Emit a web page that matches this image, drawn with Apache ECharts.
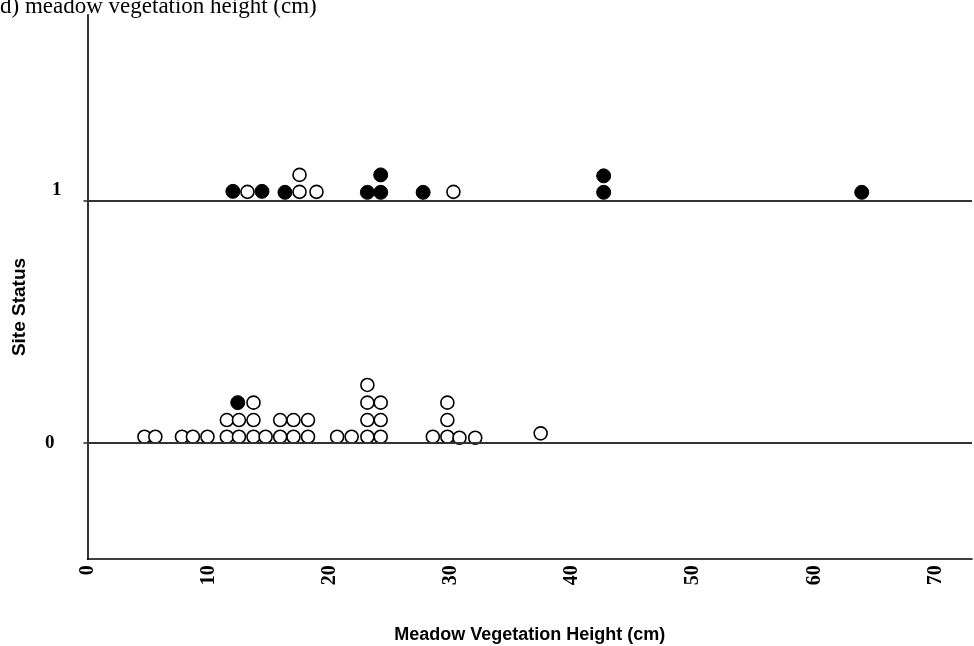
<!DOCTYPE html>
<html>
<head>
<meta charset="utf-8">
<script src="https://cdn.jsdelivr.net/npm/echarts@6/dist/echarts.min.js"></script>
<style>
html,body{margin:0;padding:0;background:#fff;}
#chart{width:974px;height:646px;}
</style>
</head>
<body>
<div id="chart"></div>
<script>
// Data
const titleText = 'd) meadow vegetation height (cm)';
const xAxisName = 'Meadow Vegetation Height (cm)';
const yAxisName = 'Site Status';
const xTicks = [0, 10, 20, 30, 40, 50, 60, 70];
const yTicks = [0, 1];

// Occupied sites (status 1) - open markers
const open1X = [13.2, 17.5, 17.5, 18.9, 30.2];
const open1Y = [1.038, 1.038, 1.108, 1.038, 1.038];
// Occupied sites (status 1) - filled markers
const filled1X = [12.0, 14.4, 16.3, 23.1, 24.2, 24.2, 27.7, 42.6, 42.6, 63.9];
const filled1Y = [1.040, 1.040, 1.036, 1.036, 1.036, 1.108, 1.036, 1.036, 1.104, 1.036];

// Unoccupied sites (status 0) - open markers
const open0X = [4.7, 5.6, 7.8, 8.7, 9.9, 11.5, 12.5, 13.7, 14.7, 15.9, 17.0, 18.2, 20.6, 21.8, 23.1, 24.2, 28.5, 29.7, 30.7, 32.0, 37.4,
                11.5, 12.5, 13.7, 15.9, 17.0, 18.2, 23.1, 24.2, 29.7,
                13.7, 23.1, 24.2, 29.7,
                23.1];
const open0Y = [0.026, 0.026, 0.026, 0.026, 0.026, 0.026, 0.026, 0.026, 0.026, 0.026, 0.026, 0.026, 0.026, 0.026, 0.026, 0.026, 0.026, 0.026, 0.022, 0.022, 0.040,
                0.095, 0.095, 0.095, 0.095, 0.095, 0.095, 0.095, 0.095, 0.095,
                0.167, 0.167, 0.167, 0.167,
                0.240];
// Unoccupied sites (status 0) - filled markers
const filled0X = [12.4];
const filled0Y = [0.167];

function pairs(xs, ys) { return xs.map((x, i) => [x, ys[i]]); }

const chart = echarts.init(document.getElementById('chart'), null, {renderer: 'canvas'});

const openStyle = {color: '#ffffff', borderColor: '#000000', borderWidth: 1.6, opacity: 1};
const filledStyle = {color: '#000000', borderColor: '#000000', borderWidth: 1, opacity: 1};

chart.setOption({
  animation: false,
  backgroundColor: '#ffffff',
  title: {
    text: titleText,
    left: 0,
    top: -5,
    padding: 0,
    textStyle: {fontFamily: 'Liberation Serif', fontWeight: 'normal', fontSize: 23, color: '#000'}
  },
  graphic: [{
    type: 'text',
    x: 20,
    y: 307,
    rotation: Math.PI / 2,
    style: {
      text: yAxisName,
      fontFamily: 'Liberation Sans',
      fontWeight: 'bold',
      fontSize: 19,
      fill: '#000',
      align: 'center',
      verticalAlign: 'middle'
    }
  }],
  grid: {left: 87.5, right: 2, top: 14.7, bottom: 86.8, containLabel: false, outerBoundsMode: 'none'},
  xAxis: {
    type: 'value',
    min: 0,
    max: 73,
    name: xAxisName,
    nameLocation: 'middle',
    nameGap: 67,
    nameTextStyle: {fontFamily: 'Liberation Sans', fontWeight: 'bold', fontSize: 18, color: '#000'},
    axisLine: {show: true, onZero: false, lineStyle: {color: '#000', width: 1.6}},
    axisTick: {show: false},
    splitLine: {show: false},
    axisLabel: {
      customValues: xTicks,
      rotate: 90,
      margin: 6,
      fontFamily: 'Liberation Serif',
      fontWeight: 'bold',
      fontSize: 20,
      color: '#000'
    }
  },
  yAxis: {
    type: 'value',
    min: -0.48,
    max: 1.77,
    axisLine: {show: true, onZero: false, lineStyle: {color: '#000', width: 1.6}},
    axisTick: {show: true, customValues: yTicks, length: 4, lineStyle: {color: '#333', width: 1.6}},
    splitLine: {show: false},
    axisLabel: {
      customValues: yTicks,
      margin: 26,
      fontFamily: 'Liberation Serif',
      fontWeight: 'bold',
      fontSize: 19,
      color: '#000',
      formatter: function (v) { return v === 1 ? '{one|1}' : '{zero|0}'; },
      rich: {
        one: {fontFamily: 'Liberation Serif', fontWeight: 'bold', fontSize: 19, color: '#000', padding: [0, 0, 22, 0]},
        zero: {fontFamily: 'Liberation Serif', fontWeight: 'bold', fontSize: 19, color: '#000', padding: [0, 7, 0, 0]}
      }
    }
  },
  series: [
    {
      type: 'scatter',
      name: 'lines',
      data: [],
      silent: true,
      markLine: {
        silent: true,
        symbol: ['none', 'none'],
        label: {show: false},
        lineStyle: {color: '#333', width: 1.8, type: 'solid'},
        data: yTicks.map(v => ({yAxis: v}))
      }
    },
    {type: 'scatter', name: 'open1', data: pairs(open1X, open1Y), symbol: 'circle', symbolSize: 13, itemStyle: openStyle, z: 3},
    {type: 'scatter', name: 'open0', data: pairs(open0X, open0Y), symbol: 'circle', symbolSize: 13, itemStyle: openStyle, z: 3},
    {type: 'scatter', name: 'filled1', data: pairs(filled1X, filled1Y), symbol: 'circle', symbolSize: 14, itemStyle: filledStyle, z: 4},
    {type: 'scatter', name: 'filled0', data: pairs(filled0X, filled0Y), symbol: 'circle', symbolSize: 14, itemStyle: filledStyle, z: 4}
  ]
});
</script>
</body>
</html>
